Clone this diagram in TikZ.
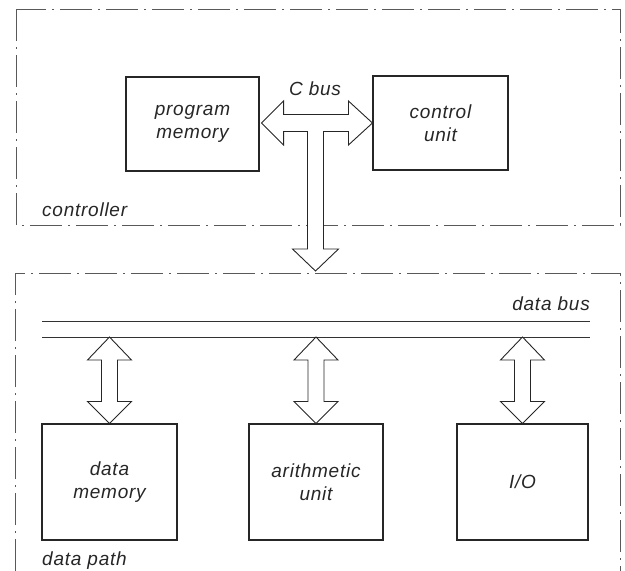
\documentclass[tikz,border=0pt]{standalone}
\usepackage{fontspec}
\newfontfamily\labfont[LetterSpace=4]{Liberation Sans}
\usetikzlibrary{calc}
\tikzset{
  lab/.style={font=\labfont\itshape\fontsize{19}{23}\selectfont, text=black!85, inner sep=0pt},
  unitbox/.style={draw=black!85, line width=1.1pt, inner sep=0pt, align=center, lab},
  border/.style={draw=black!65, line width=0.8pt, dash pattern=on 32pt off 6pt on 2pt off 6pt},
  busline/.style={draw=black!80, line width=0.9pt},
  busarrow/.style={draw=black!85, line width=0.9pt, line join=miter, fill=white}
}
\newcommand\vbusarrow[2]{%
  \draw[busarrow] (#1) -- ($(#1)+(22,23)$) -- ($(#1)+(8,23)$) -- ($(#2)+(8,-22)$)
    -- ($(#2)+(22,-22)$) -- (#2) -- ($(#2)+(-22,-22)$) -- ($(#2)+(-8,-22)$)
    -- ($(#1)+(-8,23)$) -- ($(#1)+(-22,23)$) -- cycle;}
\begin{document}
\begin{tikzpicture}[x=1pt,y=-1pt]
\useasboundingbox (0,0) rectangle (625,571);
% frames
\draw[border] (16,9) rectangle (620,225);
\draw[border] (15,571) -- (15,273) -- (620,273) -- (620,571);
\node[lab, anchor=base west] (ctrl) at (42,216) {controller};
\node[lab, anchor=base west] (dpath) at (42,565) {data path};
% controller units
\node[unitbox, minimum width=133pt, minimum height=94pt] (pm) at (192.5,124) {program\\memory};
\node[unitbox, minimum width=135pt, minimum height=94pt] (cu) at (440.5,123) {control\\unit};
% C bus
\coordinate (L) at ($(pm.east |- cu.west)+(2,0)$);
\coordinate (R) at (cu.west);
\coordinate (ctip) at (315.5,271);
\draw[busarrow] (L) -- ($(L)+(22,-22)$) -- ($(L)+(22,-8.5)$) -- ($(R)+(-24,-8.5)$)
  -- ($(R)+(-24,-22)$) -- (R) -- ($(R)+(-24,22)$) -- ($(R)+(-24,8.5)$)
  -- ($(ctip |- R)+(8,8.5)$) -- ($(ctip)+(8,-22)$) -- ($(ctip)+(23,-22)$) -- (ctip)
  -- ($(ctip)+(-23,-22)$) -- ($(ctip)+(-8,-22)$) -- ($(ctip |- R)+(-8,8.5)$)
  -- ($(L)+(22,8.5)$) -- ($(L)+(22,22)$) -- cycle;
\node[lab, anchor=base] (cbus) at (315,95) {C bus};
% data bus
\coordinate (b1w) at (42,321); \coordinate (b1e) at (590,321);
\coordinate (b2w) at (42,337); \coordinate (b2e) at (590,337);
\draw[busline] (b1w) -- (b1e);
\draw[busline] (b2w) -- (b2e);
\node[lab, anchor=base east] (dbus) at ($(b1e)+(0,-11)$) {data bus};
% data path units
\node[unitbox, minimum width=135pt, minimum height=116pt] (dm) at (109.5,482) {data\\memory};
\node[unitbox, minimum width=134pt, minimum height=116pt] (au) at (316,482) {arithmetic\\unit};
\node[unitbox, minimum width=131pt, minimum height=116pt] (io) at (522.5,482) {I/O};
\coordinate (t1) at (dm.north |- b2w);
\coordinate (t2) at (au.north |- b2w);
\coordinate (t3) at (io.north |- b2w);
\vbusarrow{t1}{dm.north}
\vbusarrow{t2}{au.north}
\vbusarrow{t3}{io.north}
\end{tikzpicture}
\end{document}
